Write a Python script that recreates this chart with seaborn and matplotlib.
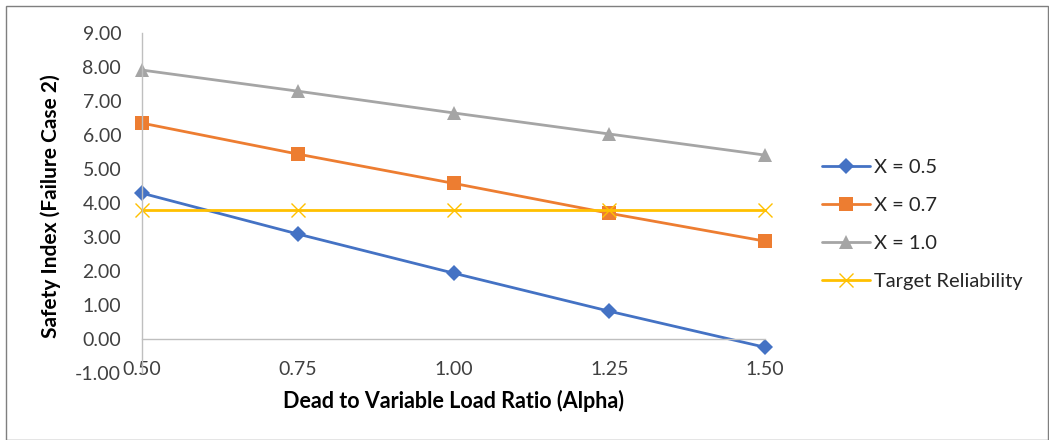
import pandas as pd
import numpy as np
import matplotlib
matplotlib.use("Agg")
import matplotlib.pyplot as plt
import seaborn as sns

# values
alpha = [0.50, 0.75, 1.00, 1.25, 1.50]
x05 = [4.29, 3.09, 1.94, 0.82, -0.24]
x07 = [6.35, 5.44, 4.58, 3.70, 2.88]
x10 = [7.91, 7.29, 6.65, 6.03, 5.41]
target = [3.80, 3.80, 3.80, 3.80, 3.80]
names = ["X = 0.5", "X = 0.7", "X = 1.0", "Target Reliability"]

df = pd.DataFrame({
    "alpha": alpha * 4,
    "beta": x05 + x07 + x10 + target,
    "series": [n for n in names for _ in alpha],
})

sns.set_style("white")
plt.rcParams["font.family"] = ["Lato", "DejaVu Sans"]

pal = {"X = 0.5": "#4472C4", "X = 0.7": "#ED7D31",
       "X = 1.0": "#A5A5A5", "Target Reliability": "#FFC000"}
marks = {"X = 0.5": "D", "X = 0.7": "s", "X = 1.0": "^", "Target Reliability": "x"}
msize = {"X = 0.5": 8, "X = 0.7": 10, "X = 1.0": 10, "Target Reliability": 10}

fig = plt.figure(figsize=(10.49, 4.4), dpi=100)
ax = fig.add_axes([0.1354, 0.152, 0.5939, 0.773])

for n in names:
    sub = df[df["series"] == n]
    sns.lineplot(data=sub, x="alpha", y="beta", color=pal[n], marker=marks[n],
                 linewidth=2, markersize=msize[n],
                 markeredgewidth=1.0 if marks[n] == "x" else 0,
                 markeredgecolor=pal[n], ax=ax, label=n, legend=False,
                 clip_on=False)

ax.set_xlim(0.5, 1.5)
ax.set_ylim(-1, 9)
ax.set_xticks(alpha)
ax.set_xticklabels([f"{v:.2f}" for v in alpha])
ax.set_yticks(np.arange(-1, 10, 1))
ax.set_yticklabels([f"{v:.2f}" for v in np.arange(-1, 10, 1)])
ax.tick_params(axis="both", length=0, labelsize=14, colors="#404040")
ax.tick_params(axis="x", pad=16)
ax.tick_params(axis="y", pad=15)

for s in ["top", "right"]:
    ax.spines[s].set_visible(False)
ax.spines["left"].set_color("#BFBFBF")
ax.spines["bottom"].set_color("#BFBFBF")
ax.spines["bottom"].set_position(("data", 0))
ax.spines["left"].set_linewidth(1)
ax.spines["bottom"].set_linewidth(1)

ax.set_xlabel("Dead to Variable Load Ratio (Alpha)", fontsize=15.5,
              fontweight="bold", color="black")
ax.xaxis.set_label_coords(0.5, -0.05)
ax.set_ylabel("Safety Index (Failure Case 2)", fontsize=15,
              fontweight="bold", color="black")
ax.yaxis.set_label_coords(-0.13, 0.49)

handles = [h for h in ax.get_lines() if h.get_label() in names]
fig.legend(handles, names, loc="center left", bbox_to_anchor=(0.766, 0.49),
           frameon=False, fontsize=14.5, labelspacing=1.05,
           handlelength=2.4, handletextpad=0.2, labelcolor="#262626")

fig.patches.append(plt.Rectangle((0.006, 0.0), 0.993, 0.986, transform=fig.transFigure,
                                 fill=False, edgecolor="#7F7F7F", linewidth=1))

fig.savefig("out.png", dpi=100)
